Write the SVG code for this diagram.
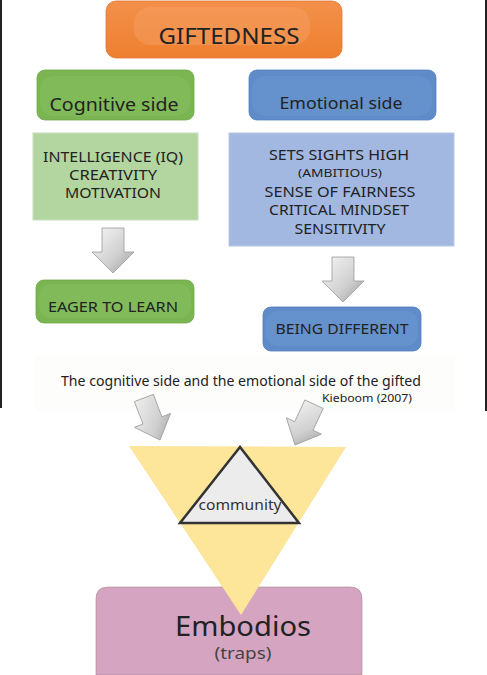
<svg xmlns="http://www.w3.org/2000/svg" width="487" height="675" viewBox="0 0 487 675">
<defs>
<style>
.t{font-family:"Noto Sans","Open Sans","Liberation Sans",sans-serif;fill:#222;text-anchor:middle}
.arrow{fill:url(#ag);stroke:#9a9a9a;stroke-width:0.8}
</style>
<linearGradient id="ag" x1="0" y1="0" x2="1" y2="1">
<stop offset="0" stop-color="#f6f6f6"/>
<stop offset="0.6" stop-color="#d0d0d0"/>
<stop offset="1" stop-color="#9c9c9c"/>
</linearGradient>
<linearGradient id="og" x1="0" y1="0" x2="0" y2="1">
<stop offset="0" stop-color="#f3904a"/>
<stop offset="1" stop-color="#ee7f30"/>
</linearGradient>
<path id="darr" d="M-11,-45 H11 V-21 H21 L0,0 L-21,-21 H-11 Z"/>
</defs>
<rect width="487" height="675" fill="#ffffff"/>
<rect x="0" y="0" width="2" height="408" fill="#222"/>
<rect x="485" y="0" width="2" height="411" fill="#222"/>
<rect x="35" y="356" width="420" height="55" fill="#fdfdfb"/>

<g id="connectors">
<use href="#darr" class="arrow" transform="translate(113,273)"/>
<use href="#darr" class="arrow" transform="translate(343,302)"/>
<use href="#darr" class="arrow" transform="translate(160,440) rotate(-21) scale(0.92,1)"/>
<use href="#darr" class="arrow" transform="translate(295,445) rotate(25) scale(0.92,1)"/>
</g>

<g id="giftedness">
<rect x="106" y="1" width="236" height="57" rx="10" fill="url(#og)" stroke="#e07a35" stroke-width="0.8"/>
<rect x="134" y="7" width="176" height="38" rx="16" fill="#f6a267" opacity="0.45"/>
<text class="t" x="229" y="44" font-size="22" textLength="141" lengthAdjust="spacingAndGlyphs">GIFTEDNESS</text>
</g>

<g id="cognitive">
<rect x="37" y="70" width="157" height="50" rx="8" fill="#7ab551" stroke="#6fa848" stroke-width="0.8"/>
<rect x="40" y="76" width="150" height="40" rx="14" fill="#8cc266" opacity="0.4"/>
<text class="t" x="114" y="111" font-size="18" textLength="129" lengthAdjust="spacingAndGlyphs">Cognitive side</text>
</g>

<g id="emotional">
<rect x="249" y="70" width="187" height="50" rx="8" fill="#5f8bc8" stroke="#5682c2" stroke-width="0.8"/>
<rect x="252" y="76" width="180" height="40" rx="14" fill="#6f9ad2" opacity="0.4"/>
<text class="t" x="341" y="109" font-size="17" textLength="123" lengthAdjust="spacingAndGlyphs">Emotional side</text>
</g>

<g id="cognitive-traits">
<rect x="33" y="133" width="165" height="87" fill="#b3d5a0" stroke="#c8dfbc" stroke-width="1"/>
<text class="t" x="113" y="162" font-size="14" textLength="140" lengthAdjust="spacingAndGlyphs">INTELLIGENCE (IQ)</text>
<text class="t" x="113" y="180" font-size="14" textLength="88" lengthAdjust="spacingAndGlyphs">CREATIVITY</text>
<text class="t" x="113" y="198" font-size="14" textLength="96" lengthAdjust="spacingAndGlyphs">MOTIVATION</text>
</g>

<g id="emotional-traits">
<rect x="229" y="133" width="225" height="113" fill="#a3b8e0" stroke="#b8c8e8" stroke-width="1"/>
<text class="t" x="339" y="160" font-size="14" textLength="140" lengthAdjust="spacingAndGlyphs">SETS SIGHTS HIGH</text>
<text class="t" x="340" y="177" font-size="11.5" textLength="84" lengthAdjust="spacingAndGlyphs">(AMBITIOUS)</text>
<text class="t" x="340" y="197" font-size="14" textLength="151" lengthAdjust="spacingAndGlyphs">SENSE OF FAIRNESS</text>
<text class="t" x="339" y="215" font-size="14" textLength="140" lengthAdjust="spacingAndGlyphs">CRITICAL MINDSET</text>
<text class="t" x="340" y="234" font-size="14" textLength="91" lengthAdjust="spacingAndGlyphs">SENSITIVITY</text>
</g>

<g id="eager">
<rect x="36" y="280" width="158" height="43" rx="8" fill="#7ab551" stroke="#6fa848" stroke-width="0.8"/>
<rect x="39" y="284" width="152" height="34" rx="12" fill="#8cc266" opacity="0.4"/>
<text class="t" x="113" y="312" font-size="14" textLength="130" lengthAdjust="spacingAndGlyphs">EAGER TO LEARN</text>
</g>

<g id="different">
<rect x="263" y="307" width="158" height="44" rx="8" fill="#5f8bc8" stroke="#4f7bbb" stroke-width="0.8"/>
<rect x="266" y="311" width="152" height="35" rx="12" fill="#6f9ad2" opacity="0.4"/>
<text class="t" x="342" y="334" font-size="14" textLength="133" lengthAdjust="spacingAndGlyphs">BEING DIFFERENT</text>
</g>

<g id="caption">
<text class="t" x="241" y="386" font-size="14" textLength="360" lengthAdjust="spacingAndGlyphs">The cognitive side and the emotional side of the gifted</text>
<text class="t" x="367" y="402" font-size="11" textLength="90" lengthAdjust="spacingAndGlyphs">Kieboom (2007)</text>
</g>

<g id="embodios">
<path d="M96,675 V599 Q96,587 108,587 H350 Q362,587 362,599 V675 Z" fill="#d5a4c0" stroke="#a88" stroke-width="0.6"/>
</g>

<g id="funnel">
<polygon points="129,446 346,447 241,615" fill="#fde59a"/>
</g>

<g id="community">
<polygon points="240,447 180,523 299,523" fill="#ececec" stroke="#333" stroke-width="2.5" stroke-linejoin="miter"/>
<text class="t" x="240" y="510" font-size="14" style="fill:#333" textLength="83" lengthAdjust="spacingAndGlyphs">community</text>
</g>

<g id="embodios-label">
<text class="t" x="243" y="636" font-size="28" textLength="136" lengthAdjust="spacingAndGlyphs">Embodios</text>
<text class="t" x="243" y="659" font-size="15.5" style="fill:#444" textLength="57" lengthAdjust="spacingAndGlyphs">(traps)</text>
</g>
</svg>
